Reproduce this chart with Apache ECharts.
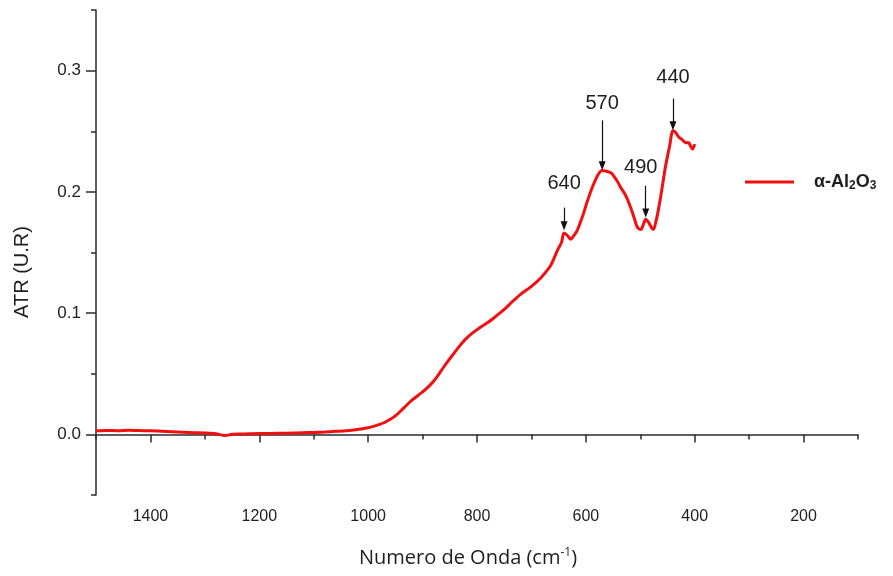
<!DOCTYPE html>
<html>
<head>
<meta charset="utf-8">
<script src="https://cdn.jsdelivr.net/npm/echarts@6/dist/echarts.min.js"></script>
<style>
  html, body { margin: 0; padding: 0; background: #fff; }
  #chart { width: 893px; height: 576px; }
</style>
</head>
<body>
<div id="chart"></div>
<script>
// FTIR-ATR spectrum of alpha alumina
const waveNumber = [
  1500, 1480, 1460, 1440, 1420, 1400, 1380, 1360, 1340, 1320, 1300, 1280, 1262, 1250, 1230,
  1200, 1180, 1150, 1120, 1100, 1080, 1060, 1040, 1020, 1000, 990, 980, 970, 960, 950,
  934, 920, 903, 890, 879, 865, 854, 842, 830, 820, 808, 795, 781, 765, 750,
  735, 720, 700, 683, 665, 652, 645, 640, 634, 628, 622, 616, 606, 597, 588,
  579, 574, 570, 564, 558, 552, 548, 544, 540, 536, 528, 521, 513, 505, 499,
  494, 490, 485, 480, 476, 471, 466, 460, 454, 446, 440, 435, 429, 423, 417,
  411, 408, 404, 400
];
const atr = [
  0.0030, 0.0032, 0.0030, 0.0033, 0.0031, 0.0030, 0.0026, 0.0022, 0.0018, 0.0014, 0.0011, 0.0005, -0.0010, 0.0002, 0.0004,
  0.0007, 0.0008, 0.0010, 0.0014, 0.0016, 0.0020, 0.0025, 0.0030, 0.0040, 0.0055, 0.0066, 0.0080, 0.0098, 0.0122, 0.0152,
  0.0220, 0.0280, 0.0340, 0.0390, 0.0442, 0.0530, 0.0600, 0.0670, 0.0740, 0.0790, 0.0837, 0.0880, 0.0920, 0.0975, 0.1030,
  0.1095, 0.1155, 0.1220, 0.1290, 0.1390, 0.1520, 0.1580, 0.1660, 0.1640, 0.1610, 0.1640, 0.1680, 0.1800, 0.1926, 0.2040,
  0.2130, 0.2165, 0.2176, 0.2172, 0.2165, 0.2150, 0.2125, 0.2100, 0.2070, 0.2036, 0.1980, 0.1910, 0.1810, 0.1705, 0.1690,
  0.1735, 0.1775, 0.1750, 0.1710, 0.1690, 0.1760, 0.1870, 0.2030, 0.2200, 0.2380, 0.2504, 0.2490, 0.2450, 0.2430, 0.2407,
  0.2405, 0.2380, 0.2353, 0.2394
];

// Peak annotations: label, arrow start/end (ATR), label centre (ATR), horizontal label shift
const peakLabels = [640, 570, 490, 440];
const arrowTop = [0.187, 0.259, 0.205, 0.277];
const arrowTip = [0.172, 0.2215, 0.1826, 0.2545];
const labelY = [0.2066, 0.2727, 0.2198, 0.2942];
const labelShift = [0, 0, -5, 0];

const xMajorTicks = [200, 400, 600, 800, 1000, 1200, 1400];
const xMinorTicks = [100, 300, 500, 700, 900, 1100, 1300, 1500];
const yMajorTicks = [0, 0.1, 0.2, 0.3];
const yMinorTicks = [-0.05, 0.05, 0.15, 0.25, 0.35];

const seriesName = 'α-Al2O3';
const xTitle = 'Numero de Onda (cm';
const yTitle = 'ATR (U.R)';
const axisColor = '#2b2b2b';
const textColor = '#1e1e1e';
const lineColor = '#f20f0f';

const spectrum = waveNumber.map((w, i) => [w, atr[i]]);

const chart = echarts.init(document.getElementById('chart'), null, { renderer: 'canvas' });

const xBase = {
  type: 'value', min: 100, max: 1500, inverse: true,
  splitLine: { show: false }
};
const yBase = {
  type: 'value', min: -0.05, max: 0.35,
  splitLine: { show: false }
};

chart.setOption({
  animation: false,
  backgroundColor: '#ffffff',
  grid: { left: 96, right: 35, top: 10, bottom: 81, containLabel: false },
  legend: {
    left: 740, top: 168,
    icon: 'rect',
    itemWidth: 49, itemHeight: 3,
    data: [seriesName],
    formatter: () => '{a|α-Al}{s|2}{a|O}{s|3}',
    textStyle: {
      padding: [0, 0, 0, 15],
      rich: {
        a: { fontFamily: 'Liberation Sans, Arial', fontWeight: 'bold', fontSize: 18, color: textColor },
        s: { fontFamily: 'Liberation Sans, Arial', fontWeight: 'bold', fontSize: 12, color: textColor, verticalAlign: 'bottom', padding: [8, 0, 0, 0] }
      }
    }
  },
  graphic: [
    {
      type: 'text', x: 22, y: 272, rotation: Math.PI / 2, silent: true,
      style: {
        text: yTitle, align: 'center', verticalAlign: 'middle',
        font: '20px "Liberation Sans", Arial', fill: textColor
      }
    },
    {
      type: 'text', x: 468, y: 558, silent: true,
      style: {
        text: '{a|' + xTitle + '}{s|-1}{a|)}', align: 'center', verticalAlign: 'middle',
        rich: {
          a: { fontFamily: 'Open Sans', fontSize: 20, fill: textColor },
          s: { fontFamily: 'Open Sans', fontSize: 12, fill: textColor, verticalAlign: 'top', padding: [0, 0, 10, 0] }
        }
      }
    }
  ],
  xAxis: [
    Object.assign({}, xBase, {
      position: 'bottom',
      axisLine: { show: true, lineStyle: { color: axisColor, width: 1.5 } },
      axisTick: { show: true, inside: false, length: 8, customValues: xMajorTicks, lineStyle: { color: axisColor, width: 1.5 } },
      axisLabel: {
        customValues: xMajorTicks, margin: 14,
        formatter: v => String(v),
        fontFamily: 'Liberation Sans, Arial', fontSize: 16, color: textColor
      }
    }),
    Object.assign({}, xBase, {
      position: 'bottom', offset: 0,
      axisLine: { show: false },
      axisTick: { show: true, inside: false, length: 5, customValues: xMinorTicks, lineStyle: { color: axisColor, width: 1.5 } },
      axisLabel: { show: false }
    })
  ],
  yAxis: [
    Object.assign({}, yBase, {
      position: 'left',
      axisLine: { show: true, lineStyle: { color: axisColor, width: 1.5 } },
      axisTick: { show: true, inside: false, length: 10, customValues: yMajorTicks, lineStyle: { color: axisColor, width: 1.5 } },
      axisLabel: {
        customValues: yMajorTicks, margin: 15,
        formatter: v => v.toFixed(1),
        fontFamily: 'Liberation Sans, Arial', fontSize: 17, color: textColor
      }
    }),
    Object.assign({}, yBase, {
      position: 'left', offset: 0,
      axisLine: { show: false },
      axisTick: { show: true, inside: false, length: 5, customValues: yMinorTicks, lineStyle: { color: axisColor, width: 1.5 } },
      axisLabel: { show: false }
    })
  ],
  series: [
    {
      name: seriesName,
      type: 'line',
      xAxisIndex: 0, yAxisIndex: 0,
      data: spectrum,
      symbol: 'none',
      smooth: 0.3,
      lineStyle: { color: lineColor, width: 3 },
      itemStyle: { color: lineColor },
      markLine: {
        silent: true,
        symbol: ['none', 'triangle'],
        symbolSize: [7, 9],
        symbolRotate: 180,
        lineStyle: { color: '#111', width: 1.2, type: 'solid' },
        label: { show: false },
        data: peakLabels.map((p, i) => [
          { coord: [p, arrowTop[i]] },
          { coord: [p, arrowTip[i]] }
        ])
      }
    },
    {
      name: 'peaks',
      type: 'scatter',
      xAxisIndex: 0, yAxisIndex: 0,
      silent: true,
      symbolSize: 0,
      itemStyle: { opacity: 1 },
      data: peakLabels.map((p, i) => ({
        value: [p, labelY[i]],
        label: { offset: [labelShift[i], 0] }
      })),
      label: {
        show: true,
        position: 'inside',
        formatter: params => String(peakLabels[params.dataIndex]),
        fontFamily: 'Liberation Sans, Arial', fontSize: 20, color: textColor,
        textBorderWidth: 0
      }
    }
  ]
});
</script>
</body>
</html>
